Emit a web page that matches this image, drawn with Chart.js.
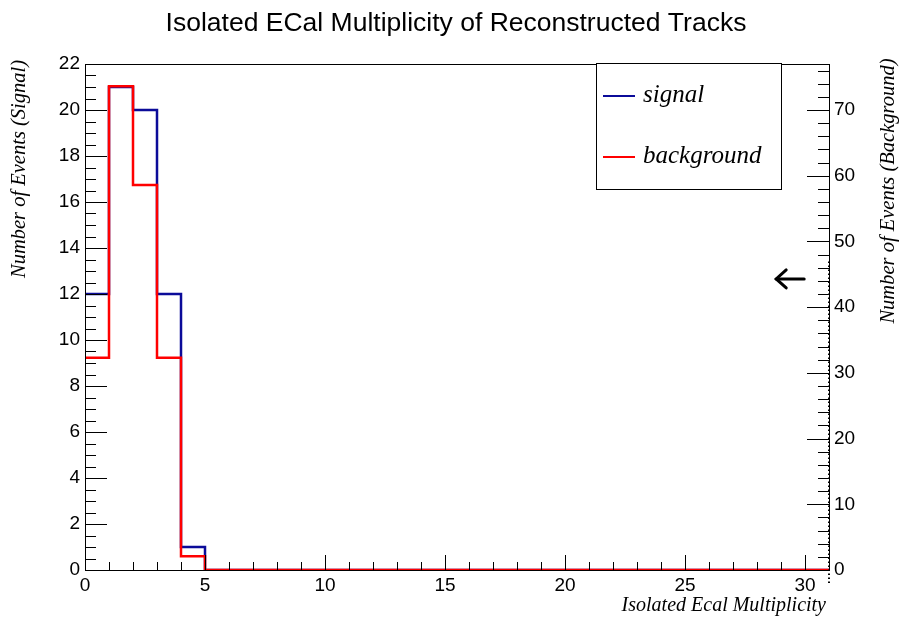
<!DOCTYPE html>
<html>
<head>
<meta charset="utf-8">
<script src="https://cdn.jsdelivr.net/npm/chart.js@4/dist/chart.umd.min.js"></script>
<style>
  html, body { margin: 0; padding: 0; background: #fff; }
  #wrap { width: 901px; height: 617px; position: relative; }
</style>
</head>
<body>
<div id="wrap"><canvas id="c" width="901" height="617"></canvas></div>
<script>
// Histogram bins: lower edges 0..30, bin width 1
const binEdges = [0,1,2,3,4,5,6,7,8,9,10,11,12,13,14,15,16,17,18,19,20,21,22,23,24,25,26,27,28,29,30,31];
const signalCounts = [12,21,20,12,1,0,0,0,0,0,0,0,0,0,0,0,0,0,0,0,0,0,0,0,0,0,0,0,0,0,0];
const backgroundCounts = [32.3,73.6,58.6,32.3,2.1,0,0,0,0,0,0,0,0,0,0,0,0,0,0,0,0,0,0,0,0,0,0,0,0,0,0];
const xTickLabels = [0,5,10,15,20,25,30];
const leftTickLabels = [0,2,4,6,8,10,12,14,16,18,20,22];
const rightTickLabels = [0,10,20,30,40,50,60,70];
const seriesNames = ['signal', 'background'];
const titleText = 'Isolated ECal Multiplicity of Reconstructed Tracks';
const xTitle = 'Isolated Ecal Multiplicity';
const yLeftTitle = 'Number of Events (Signal)';
const yRightTitle = 'Number of Events (Background)';
const cutMarker = { x: 28.8, y: 44.3 }; // arrow on the background axis

// step outline points: one per bin lower edge, plus the closing upper edge
function stepPoints(counts) {
  const pts = counts.map((v, i) => ({ x: binEdges[i], y: v }));
  pts.push({ x: binEdges[counts.length], y: counts[counts.length - 1] });
  return pts;
}

const SANS = '"Liberation Sans", Arial, sans-serif';
const SERIF = '"Liberation Serif", "Times New Roman", serif';
const BLUE = '#0b0b99';
const RED = '#ff0000';

const decor = {
  id: 'rootDecor',
  afterDatasetsDraw(chart) {
    const { ctx, chartArea: a, scales } = chart;
    const xs = scales.x, yl = scales.y, yr = scales.y2;
    ctx.save();
    ctx.strokeStyle = '#000';
    ctx.lineWidth = 1;
    // inward ticks
    const line = (x1, y1, x2, y2) => { ctx.beginPath(); ctx.moveTo(x1, y1); ctx.lineTo(x2, y2); ctx.stroke(); };
    for (let v = 0; v <= 31; v += 1) {
      const px = Math.round(xs.getPixelForValue(v)) + 0.5;
      const len = v % 5 === 0 ? 15 : 8;
      line(px, a.bottom, px, a.bottom - len);
    }
    for (let v = 0; v <= 22; v += 0.5) {
      const py = Math.round(yl.getPixelForValue(v)) + 0.5;
      const len = v % 2 === 0 ? 22 : 11;
      line(a.left, py, a.left + len, py);
    }
    for (let v = 0; v <= 77; v += 2) {
      const py = Math.round(yr.getPixelForValue(v)) + 0.5;
      const len = v % 10 === 0 ? 22 : 11;
      line(a.right, py, a.right - len, py);
    }
    // frame
    ctx.strokeRect(Math.round(a.left) + 0.5, Math.round(a.top) + 0.5,
                   Math.round(a.right - a.left), Math.round(a.bottom - a.top));
    // dotted segment on the right axis
    ctx.setLineDash([1.5, 2.5]);
    ctx.lineWidth = 2;
    line(a.right, a.bottom + 13, a.right, yr.getPixelForValue(47));
    ctx.setLineDash([]);

    // legend box
    ctx.lineWidth = 1;
    ctx.fillStyle = '#fff';
    ctx.fillRect(596.5, 63.5, 185, 126);
    ctx.strokeRect(596.5, 63.5, 185, 126);
    const entries = [[seriesNames[0], BLUE, 96], [seriesNames[1], RED, 157]];
    ctx.font = 'italic 25px ' + SERIF;
    ctx.textBaseline = 'middle';
    ctx.textAlign = 'left';
    entries.forEach(([name, col, y]) => {
      ctx.strokeStyle = col; ctx.lineWidth = 2;
      line(603, y, 635, y);
      ctx.fillStyle = '#000';
      ctx.fillText(name, 643, y - 1);
    });

    // arrow marker
    const ax = xs.getPixelForValue(cutMarker.x), ay = yr.getPixelForValue(cutMarker.y);
    ctx.strokeStyle = '#000'; ctx.lineWidth = 3; ctx.lineCap = 'round';
    line(ax, ay, ax + 28, ay);
    ctx.beginPath(); ctx.moveTo(ax + 10, ay - 9); ctx.lineTo(ax, ay); ctx.lineTo(ax + 10, ay + 9); ctx.stroke();
    ctx.lineCap = 'butt';

    // titles
    ctx.fillStyle = '#000';
    ctx.font = '26.5px ' + SANS;
    ctx.textAlign = 'center';
    ctx.textBaseline = 'alphabetic';
    ctx.fillText(titleText, 456, 31);
    ctx.font = 'italic 20px ' + SERIF;
    ctx.textAlign = 'right';
    ctx.fillText(xTitle, 826, 611);
    ctx.font = 'italic 20.5px ' + SERIF;
    ctx.textAlign = 'center';
    ctx.textBaseline = 'middle';
    ctx.save(); ctx.translate(20, 169); ctx.rotate(-Math.PI / 2); ctx.fillText(yLeftTitle, 0, 0); ctx.restore();
    ctx.save(); ctx.translate(889, 191); ctx.rotate(-Math.PI / 2); ctx.fillText(yRightTitle, 0, 0); ctx.restore();
    ctx.restore();
  }
};

const keep = (list) => (scale) => { scale.ticks = list.map(v => ({ value: v })); };

new Chart(document.getElementById('c'), {
  type: 'line',
  data: {
    datasets: [
      { label: seriesNames[1], data: stepPoints(backgroundCounts), yAxisID: 'y2', stepped: 'before',
        borderColor: RED, borderWidth: 2.5, pointRadius: 0, fill: false, order: 0 },
      { label: seriesNames[0], data: stepPoints(signalCounts), yAxisID: 'y', stepped: 'before',
        borderColor: BLUE, borderWidth: 2.5, pointRadius: 0, fill: false, order: 1 }
    ]
  },
  options: {
    responsive: false,
    animation: false,
    layout: { padding: { top: 64, left: 0, right: 0, bottom: 0 } },
    plugins: { legend: { display: false }, tooltip: { enabled: false }, title: { display: false } },
    elements: { line: { tension: 0 } },
    scales: {
      x: {
        type: 'linear', min: 0, max: 31,
        afterBuildTicks: keep(xTickLabels),
        afterFit: (s) => { s.height = 47; },
        grid: { display: false, drawTicks: false },
        border: { display: false },
        ticks: { padding: 4, color: '#000', font: { family: SANS, size: 19 }, maxRotation: 0 }
      },
      y: {
        type: 'linear', position: 'left', min: 0, max: 22,
        afterBuildTicks: keep(leftTickLabels),
        afterFit: (s) => { s.width = 85; },
        grid: { display: false, drawTicks: false },
        border: { display: false },
        ticks: { padding: 5, color: '#000', font: { family: SANS, size: 19 } }
      },
      y2: {
        type: 'linear', position: 'right', min: 0, max: 77,
        afterBuildTicks: keep(rightTickLabels),
        afterFit: (s) => { s.width = 72; },
        grid: { display: false, drawTicks: false },
        border: { display: false },
        ticks: { padding: 5, color: '#000', font: { family: SANS, size: 19 } }
      }
    }
  },
  plugins: [decor]
});
</script>
</body>
</html>
